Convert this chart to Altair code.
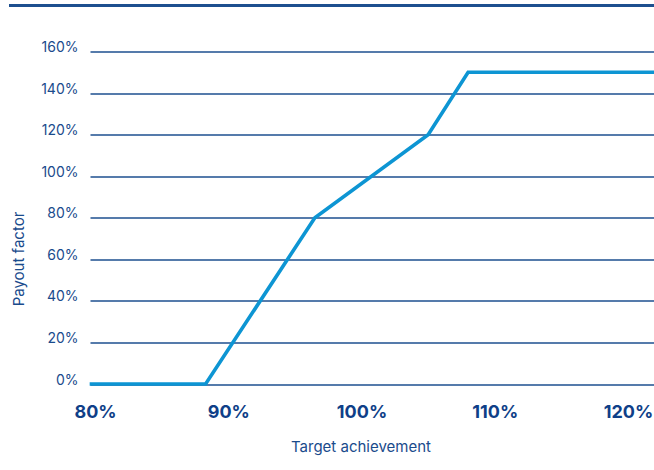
import altair as alt
import pandas as pd

# Data
achievement = [79.6, 88.3, 96.5, 105.0, 108.0, 122.0]   # target achievement (%)
payout = [0, 0, 80, 120, 150, 150]                       # payout factor (%)
x_ticks = [80, 90, 100, 110, 120]
y_ticks = [0, 20, 40, 60, 80, 100, 120, 140, 160]

df = pd.DataFrame({"achievement": achievement, "payout": payout})

FONT = "Inter"
DARK = "#1d4f8f"
LABEL = "#1a4b8c"
LINE = "#0d95d3"

W, H = 564, 332.5

line = alt.Chart(df).mark_line(color=LINE, strokeWidth=3.6, strokeJoin="miter").encode(
    x=alt.X(
        "achievement:Q",
        scale=alt.Scale(domain=[79.625, 121.95], nice=False, zero=False),
        axis=alt.Axis(
            values=x_ticks,
            labelExpr="datum.value + '%'",
            title="Target achievement",
            grid=False,
            domain=False,
            ticks=False,
            tickSize=0,
            labelFont=FONT,
            labelFontSize=18,
            labelFontWeight="bold",
            labelColor="#0f3f88",
            labelBaseline="middle",
            labelPadding=28,
            labelFlush=False,
            titleFont=FONT,
            titleFontSize=15,
            titleFontWeight="normal",
            titleColor=LABEL,
            titleX=270.5,
            titleY=62.5,
            titleAnchor="middle",
            titleAlign="center",
            titleBaseline="middle",
        ),
    ),
    y=alt.Y(
        "payout:Q",
        scale=alt.Scale(domain=[0, 160], nice=False),
        axis=alt.Axis(
            values=y_ticks,
            labelExpr="datum.value + '%'",
            title="Payout factor",
            grid=True,
            gridColor=DARK,
            gridWidth=1.3,
            gridOpacity=1,
            domain=False,
            ticks=False,
            tickSize=0,
            labelFont=FONT,
            labelFontSize=14,
            labelColor=LABEL,
            labelAlign="right",
            labelBaseline="alphabetic",
            labelPadding=12,
            labelFlush=False,
            titleFont=FONT,
            titleFontSize=15,
            titleFontWeight="normal",
            titleColor=LABEL,
            titleX=-72,
            titleY=207,
            titleAngle=-90,
            titleAlign="center",
            titleBaseline="middle",
        ),
    ),
)

top_rule = alt.Chart(df).mark_rule(color=DARK, strokeWidth=2.7).encode(
    x=alt.value(-81), x2=alt.value(W), y=alt.value(-45.8)
)

chart = alt.layer(top_rule, line).properties(
    width=W,
    height=H,
    padding={"left": 90, "top": 51.5, "right": 0, "bottom": 86},
    autosize=alt.AutoSizeParams(type="none"),
    background="white",
).configure_view(stroke=None)

chart.save("out.html", embed_options={"renderer": "svg", "actions": False})
